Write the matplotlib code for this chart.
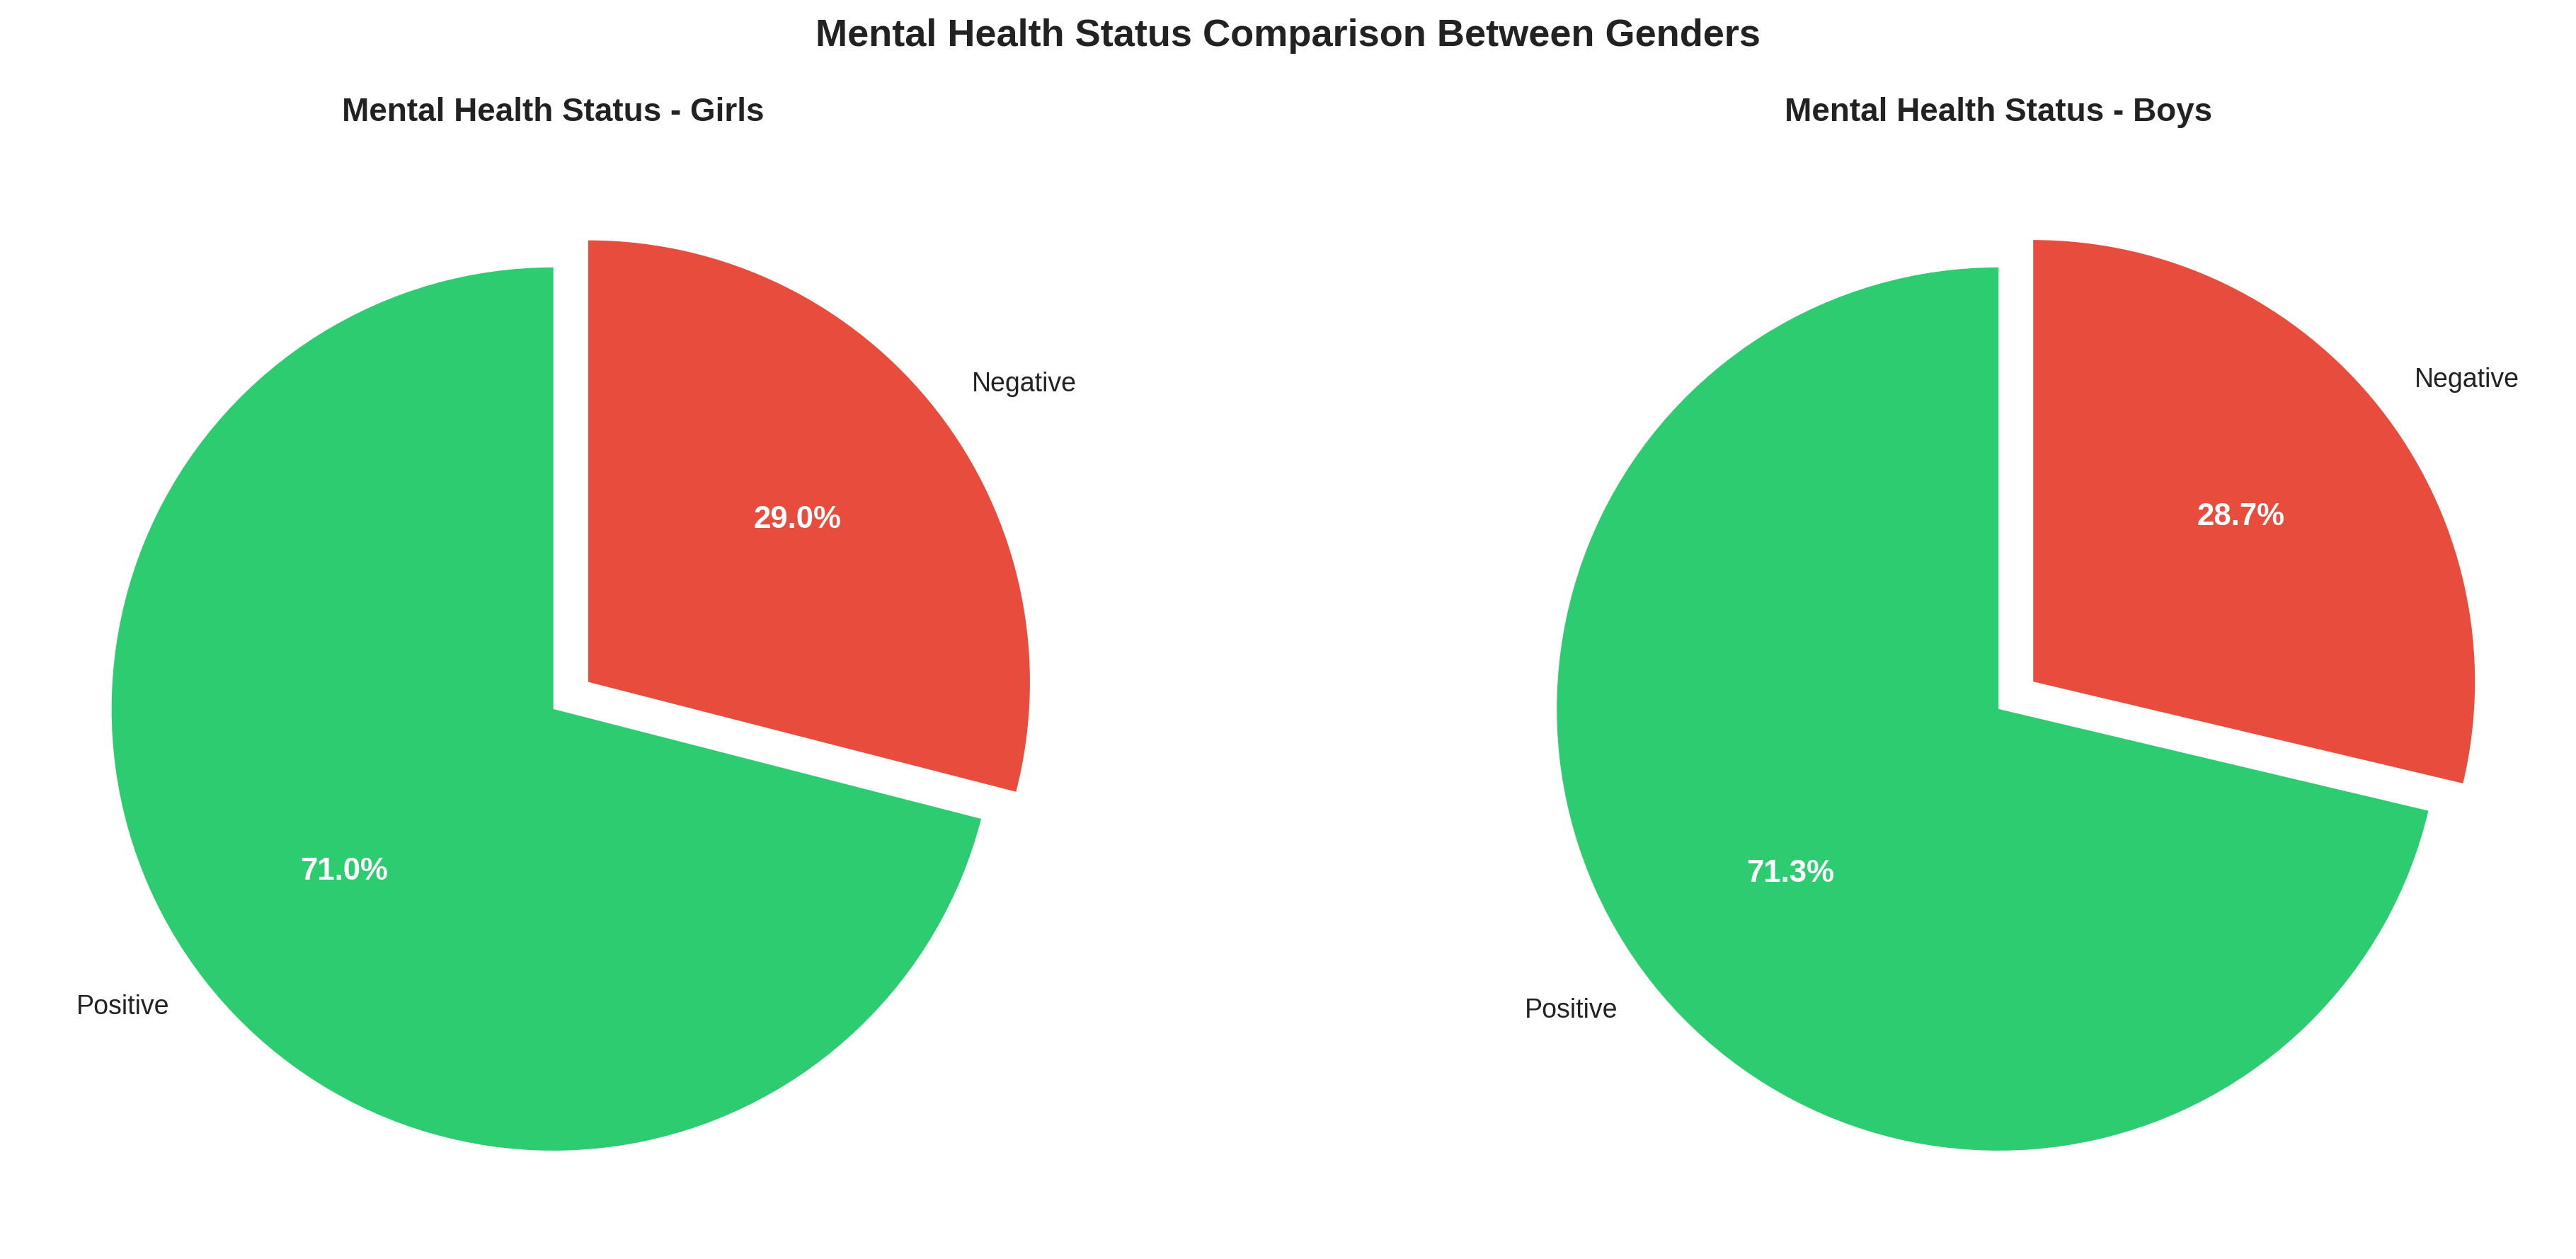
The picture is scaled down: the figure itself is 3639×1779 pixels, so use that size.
import matplotlib
matplotlib.use("Agg")
import matplotlib.pyplot as plt

plt.rcParams['font.family'] = ['Liberation Sans', 'DejaVu Sans']
labels = ['Positive', 'Negative']
girls = [71.0, 29.0]
boys = [71.3, 28.7]
colors = ['#2ecc71', '#e74c3c']
titles = ['Mental Health Status - Girls', 'Mental Health Status - Boys']

W, H = 12.133, 5.93
fig = plt.figure(figsize=(W, H), dpi=300)
side = 5.2
centers = [(335/1560, 1-428/760), (1210/1560, 1-428/760)]
for (cx, cy), vals, t in zip(centers, [girls, boys], titles):
    ax = fig.add_axes([cx - side/W/2, cy - side/H/2, side/W, side/H])
    _, texts, autos = ax.pie(vals, labels=labels, colors=colors, autopct='%1.1f%%',
                             startangle=90, explode=(0, 0.1),
                             textprops={'fontsize': 9, 'color': '#222222'})
    for a in autos:
        a.set_color('white'); a.set_fontweight('bold'); a.set_fontsize(10.5)
    ax.set_xlim(-1.25, 1.25); ax.set_ylim(-1.25, 1.25)
    fig.text(cx, 1-68/760, t, ha='center', va='center', fontsize=11, fontweight='bold', color='#222222')
fig.text(0.5, 1-22/760, 'Mental Health Status Comparison Between Genders', ha='center', va='center',
         fontsize=13, fontweight='bold', color='#222222')
fig.savefig('out.png', dpi=300)
